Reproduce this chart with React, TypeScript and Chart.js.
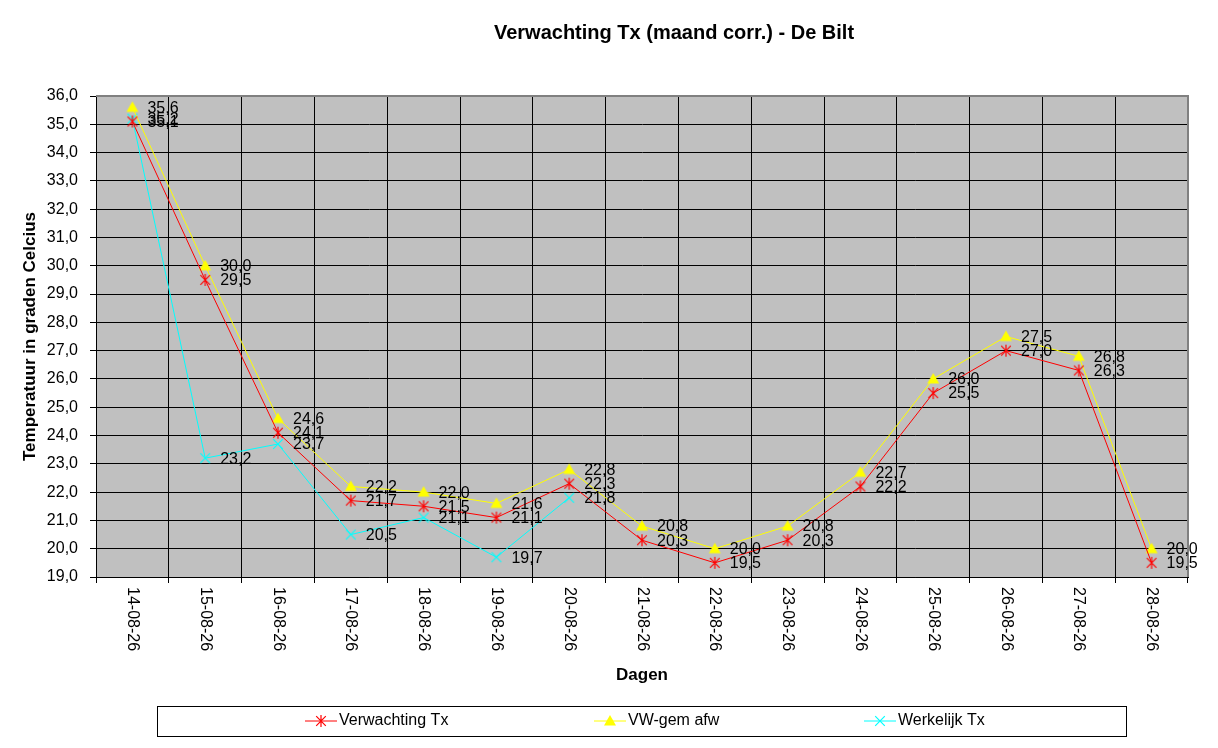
import React, { useEffect, useRef } from "react";
import { Chart, registerables } from "chart.js";

Chart.register(...registerables);

const TITLE = "Verwachting Tx (maand corr.) - De Bilt";
const Y_TITLE = "Temperatuur in graden Celcius";
const X_TITLE = "Dagen";

const categories = [
  "14-08-26", "15-08-26", "16-08-26", "17-08-26", "18-08-26",
  "19-08-26", "20-08-26", "21-08-26", "22-08-26", "23-08-26",
  "24-08-26", "25-08-26", "26-08-26", "27-08-26", "28-08-26",
];
const verwachting = [35.1, 29.5, 24.1, 21.7, 21.5, 21.1, 22.3, 20.3, 19.5, 20.3, 22.2, 25.5, 27.0, 26.3, 19.5];
const vwGemAfw = [35.6, 30.0, 24.6, 22.2, 22.0, 21.6, 22.8, 20.8, 20.0, 20.8, 22.7, 26.0, 27.5, 26.8, 20.0];
const werkelijk: (number | null)[] = [35.2, 23.2, 23.7, 20.5, 21.1, 19.7, 21.8, null, null, null, null, null, null, null, null];
const Y_MIN = 19;
const Y_MAX = 36;

const FONT = "'Liberation Sans', Arial, sans-serif";
const fmt = (v: number) => v.toFixed(1).replace(".", ",");

function drawMarker(ctx: CanvasRenderingContext2D, style: string, x: number, y: number, r: number, color: string) {
  ctx.save();
  ctx.strokeStyle = color;
  ctx.fillStyle = color;
  ctx.lineWidth = 1.2;
  ctx.beginPath();
  if (style === "triangle") {
    ctx.moveTo(x, y - r);
    ctx.lineTo(x + r, y + r * 0.75);
    ctx.lineTo(x - r, y + r * 0.75);
    ctx.closePath();
    ctx.fill();
  } else if (style === "asterisk") {
    const d = r * 0.8;
    ctx.moveTo(x - d, y - d); ctx.lineTo(x + d, y + d);
    ctx.moveTo(x + d, y - d); ctx.lineTo(x - d, y + d);
    ctx.moveTo(x, y - r); ctx.lineTo(x, y + r);
    ctx.stroke();
  } else {
    const d = r * 0.8;
    ctx.moveTo(x - d, y - d); ctx.lineTo(x + d, y + d);
    ctx.moveTo(x + d, y - d); ctx.lineTo(x - d, y + d);
    ctx.stroke();
  }
  ctx.restore();
}

function makeMarker(style: string, color: string, r: number): HTMLCanvasElement {
  const size = r * 2 + 4;
  const c = document.createElement("canvas");
  c.width = size;
  c.height = size;
  const cx = c.getContext("2d")!;
  drawMarker(cx, style, size / 2, size / 2, r, color);
  return c;
}

const decorPlugin = {
  id: "decor",
  beforeDraw(chart: any) {
    const { ctx, chartArea } = chart;
    ctx.save();
    ctx.fillStyle = "#c0c0c0";
    ctx.fillRect(chartArea.left, chartArea.top, chartArea.right - chartArea.left, chartArea.bottom - chartArea.top);
    ctx.restore();
  },
  afterDatasetsDraw(chart: any) {
    const { ctx, chartArea } = chart;
    ctx.save();
    ctx.strokeStyle = "#808080";
    ctx.lineWidth = 2;
    ctx.beginPath();
    ctx.moveTo(chartArea.left, chartArea.top);
    ctx.lineTo(chartArea.right, chartArea.top);
    ctx.lineTo(chartArea.right, chartArea.bottom);
    ctx.stroke();
    ctx.restore();

    ctx.save();
    ctx.font = `16px ${FONT}`;
    ctx.fillStyle = "#000";
    ctx.textAlign = "left";
    ctx.textBaseline = "middle";
    chart.data.datasets.forEach((ds: any, di: number) => {
      const meta = chart.getDatasetMeta(di);
      meta.data.forEach((pt: any, i: number) => {
        const v = ds.data[i];
        if (v === null || v === undefined) return;
        ctx.fillText(fmt(v), pt.x + 15, pt.y + 1);
      });
    });
    ctx.restore();
  },
  afterDraw(chart: any) {
    const { ctx, chartArea } = chart;
    const xScale = chart.scales.x;
    ctx.save();
    ctx.fillStyle = "#000";
    ctx.font = `bold 20px ${FONT}`;
    ctx.textAlign = "center";
    ctx.textBaseline = "middle";
    ctx.fillText(TITLE, 674, 33);
    ctx.font = `16px ${FONT}`;
    categories.forEach((c, i) => {
      const x = xScale.getPixelForValue(i);
      ctx.save();
      ctx.translate(x, chartArea.bottom + 10);
      ctx.rotate(Math.PI / 2);
      ctx.textAlign = "left";
      ctx.textBaseline = "middle";
      ctx.fillText(c, 0, 0);
      ctx.restore();
    });
    ctx.font = `bold 17px ${FONT}`;
    ctx.textAlign = "center";
    ctx.textBaseline = "middle";
    ctx.fillText(X_TITLE, (chartArea.left + chartArea.right) / 2, 675);
    ctx.save();
    ctx.translate(30, (chartArea.top + chartArea.bottom) / 2);
    ctx.rotate(-Math.PI / 2);
    ctx.fillText(Y_TITLE, 0, 0);
    ctx.restore();
    ctx.strokeStyle = "#000";
    ctx.lineWidth = 1;
    ctx.strokeRect(157.5, 706.5, 969, 30);
    const items = [
      { x: 305, style: "asterisk", ds: chart.data.datasets[0] },
      { x: 594, style: "triangle", ds: chart.data.datasets[1] },
      { x: 864, style: "crossRot", ds: chart.data.datasets[2] },
    ];
    const ly = 721;
    items.forEach((it) => {
      ctx.save();
      ctx.strokeStyle = it.ds.borderColor;
      ctx.lineWidth = 1;
      ctx.beginPath();
      ctx.moveTo(it.x, ly);
      ctx.lineTo(it.x + 32, ly);
      ctx.stroke();
      ctx.restore();
      drawMarker(ctx, it.style, it.x + 16, ly, 6, it.ds.borderColor);
      ctx.font = `16px ${FONT}`;
      ctx.fillStyle = "#000";
      ctx.textAlign = "left";
      ctx.textBaseline = "middle";
      ctx.fillText(it.ds.label, it.x + 34, ly);
    });
    ctx.restore();
  },
};

export default function App() {
  const ref = useRef<HTMLCanvasElement | null>(null);
  useEffect(() => {
    if (!ref.current) return;
    const redMarker = makeMarker("asterisk", "#ff0000", 6);
    const yellowMarker = makeMarker("triangle", "#ffff00", 6);
    const cyanMarker = makeMarker("crossRot", "#00ffff", 6);
    const chart = new Chart(ref.current, {
      type: "line",
      data: {
        labels: categories,
        datasets: [
          {
            label: "Verwachting Tx",
            data: verwachting,
            borderColor: "#ff0000",
            backgroundColor: "#ff0000",
            borderWidth: 1,
            pointStyle: redMarker,
            pointRadius: 6,
            tension: 0,
          },
          {
            label: "VW-gem afw",
            data: vwGemAfw,
            borderColor: "#ffff00",
            backgroundColor: "#ffff00",
            borderWidth: 1,
            pointStyle: yellowMarker,
            pointRadius: 6,
            tension: 0,
          },
          {
            label: "Werkelijk Tx",
            data: werkelijk,
            borderColor: "#00ffff",
            backgroundColor: "#00ffff",
            borderWidth: 1,
            pointStyle: cyanMarker,
            pointRadius: 6,
            tension: 0,
            spanGaps: false,
          },
        ],
      },
      options: {
        animation: false,
        responsive: false,
        maintainAspectRatio: false,
        layout: { padding: { top: 96, right: 30, left: 0, bottom: 0 } },
        plugins: {
          legend: { display: false },
          title: { display: false },
          tooltip: { enabled: false },
        },
        scales: {
          x: {
            type: "category",
            offset: true,
            grid: { offset: true, color: "#000", lineWidth: 1, tickLength: 6, drawTicks: true },
            border: { color: "#000", width: 1 },
            ticks: { display: false },
            afterFit: (scale: any) => { scale.height = 171; },
          },
          y: {
            min: Y_MIN,
            max: Y_MAX,
            grid: { color: "#000", lineWidth: 1, tickLength: 6 },
            border: { color: "#000", width: 1 },
            ticks: {
              stepSize: 1,
              color: "#000",
              padding: 12,
              font: { family: FONT, size: 16 },
              callback: (v: any) => fmt(Number(v)),
            },
            afterFit: (scale: any) => { scale.width = 96; },
          },
        },
      },
      plugins: [decorPlugin],
    } as any);
    return () => chart.destroy();
  }, []);
  return (
    <div style={{ position: "fixed", left: 0, top: 0, width: 1218, height: 748, background: "#fff" }}>
      <canvas ref={ref} width={1218} height={748} style={{ width: 1218, height: 748, display: "block" }} />
    </div>
  );
}
